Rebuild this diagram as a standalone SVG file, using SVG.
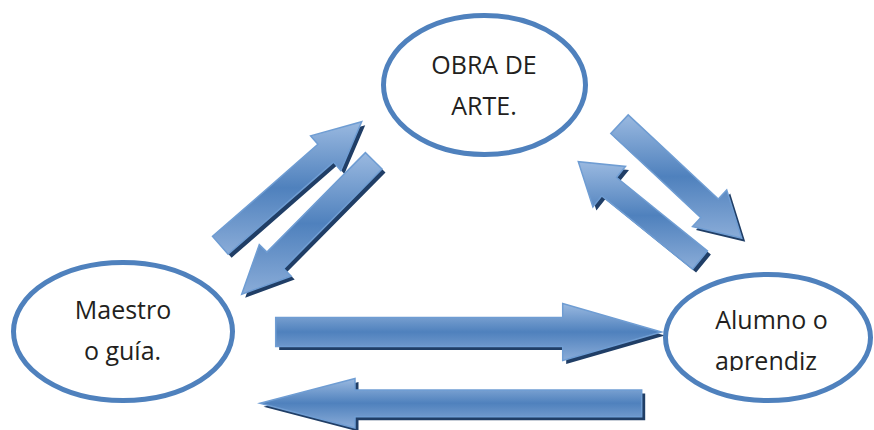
<svg xmlns="http://www.w3.org/2000/svg" width="874" height="430" viewBox="0 0 874 430">
  <defs>
    <linearGradient id="g" x1="0" y1="0" x2="0" y2="1">
      <stop offset="0" stop-color="#9ab9e0"/>
      <stop offset="0.5" stop-color="#4f81bd"/>
      <stop offset="1" stop-color="#8aacd8"/>
    </linearGradient>
    <clipPath id="clipA">
      <rect x="650" y="260" width="224" height="111"/>
    </clipPath>
  </defs>
  <style>
    .node ellipse { fill: #ffffff; stroke: #4f81bd; stroke-width: 5; }
    .node text { font-family: "Open Sans", "Liberation Sans", sans-serif; font-size: 25px; fill: #231f20; text-anchor: middle; }
    .shadow polygon { fill: #203e66; }
    .arrow polygon { fill: url(#g); stroke: #6f9dd3; stroke-width: 1.5; stroke-linejoin: miter; }
  </style>

  <g id="connectors">
    <g class="shadow" transform="translate(3.5,3.5)">
      <polygon points="275.7,317.5 562.7,317.5 562.7,303.5 661.5,332 562.7,360.5 562.7,346.5 275.7,346.5"/>
      <polygon points="641.7,390 355,390 355,378.5 260,403.3 355,428 355,416.7 641.7,416.7"/>
      <polygon points="212.5,236.4 317.9,144.3 310.6,135.9 361.7,121.7 340.8,170.5 333.5,162.1 228.1,254.2"/>
      <polygon points="382.0,169.0 283.6,268.6 291.2,276.1 241.7,294.3 259.3,244.6 266.9,252.1 365.4,152.6"/>
      <polygon points="628.2,114.9 718.3,199.0 726.7,190.0 741.7,238.3 692.5,226.6 700.9,217.6 610.8,133.5"/>
      <polygon points="692.6,269.1 601.8,195.8 592.9,206.9 578.3,161.7 625.5,166.4 616.6,177.5 707.4,250.9"/>
    </g>
    <g class="arrow">
      <polygon id="arrow-maestro-alumno" points="275.7,317.5 562.7,317.5 562.7,303.5 661.5,332 562.7,360.5 562.7,346.5 275.7,346.5"/>
      <polygon id="arrow-alumno-maestro" points="641.7,390 355,390 355,378.5 260,403.3 355,428 355,416.7 641.7,416.7"/>
      <polygon id="arrow-maestro-obra" points="212.5,236.4 317.9,144.3 310.6,135.9 361.7,121.7 340.8,170.5 333.5,162.1 228.1,254.2"/>
      <polygon id="arrow-obra-maestro" points="382.0,169.0 283.6,268.6 291.2,276.1 241.7,294.3 259.3,244.6 266.9,252.1 365.4,152.6"/>
      <polygon id="arrow-obra-alumno" points="628.2,114.9 718.3,199.0 726.7,190.0 741.7,238.3 692.5,226.6 700.9,217.6 610.8,133.5"/>
      <polygon id="arrow-alumno-obra" points="692.6,269.1 601.8,195.8 592.9,206.9 578.3,161.7 625.5,166.4 616.6,177.5 707.4,250.9"/>
    </g>
  </g>

  <g id="node-obra" class="node">
    <ellipse cx="484.5" cy="85" rx="101" ry="69.5"/>
    <text x="484" y="74">OBRA DE</text>
    <text x="484" y="115">ARTE.</text>
  </g>

  <g id="node-maestro" class="node">
    <ellipse cx="123" cy="331.5" rx="109.5" ry="69"/>
    <text x="123" y="319">Maestro</text>
    <text x="122.5" y="360">o guía.</text>
  </g>

  <g id="node-alumno" class="node">
    <ellipse cx="768" cy="337.5" rx="102.5" ry="63"/>
    <text x="771.5" y="329">Alumno o</text>
    <text x="766" y="370" clip-path="url(#clipA)">aprendiz</text>
  </g>
</svg>
